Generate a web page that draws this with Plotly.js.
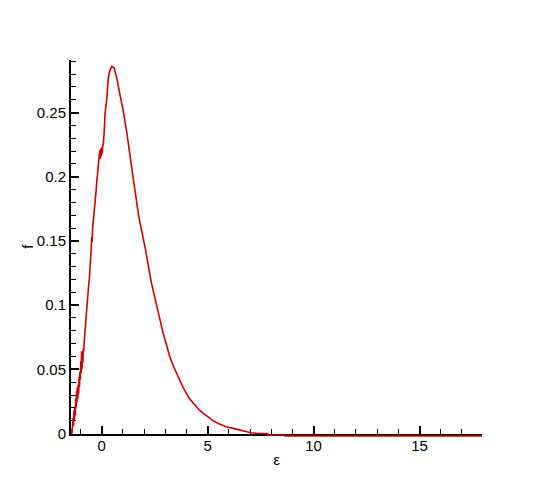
<!DOCTYPE html>
<html>
<head>
<meta charset="utf-8">
<script src="https://cdn.plot.ly/plotly-3.0.1.min.js"></script>
<style>
  body { margin: 0; background: #fff; }
  #plot { width: 550px; height: 489px; }
</style>
</head>
<body>
<div id="plot"></div>
<script>
// distribution f(eps)
var eps = [-1.45, -1.43, -1.41, -1.39, -1.37, -1.35, -1.33, -1.31, -1.29, -1.27,
  -1.25, -1.23, -1.21, -1.19, -1.17, -1.15, -1.13, -1.11, -1.09, -1.07,
  -1.05, -1.03, -1.01, -0.99, -0.97, -0.95, -0.93, -0.91, -0.89, -0.87,
  -0.85, -0.82, -0.79, -0.76, -0.73, -0.70, -0.67, -0.64, -0.61, -0.58,
  -0.55, -0.51, -0.47, -0.45, -0.43, -0.39, -0.35, -0.31, -0.27, -0.24,
  -0.20, -0.16, -0.12, -0.08, -0.06, -0.04, -0.02, 0.0, 0.02, 0.05,
  0.08, 0.12, 0.16, 0.24, 0.31, 0.39, 0.48, 0.58, 0.71, 0.86,
  1.02, 1.18, 1.33, 1.52, 1.75, 2.07, 2.35, 2.71, 2.90, 3.06,
  3.21, 3.37, 3.53, 3.68, 3.84, 4.00, 4.15,
  4.31, 4.62, 4.94, 5.25, 5.56, 5.88, 6.19, 6.50, 6.82, 7.05,
  7.30, 7.84, 7.85, 8.64, 8.65, 17.95];
var f = [-0.001, 0.003, -0.001, 0.008, 0.002, 0.012, 0.006, 0.018, 0.010, 0.020,
  0.014, 0.027, 0.020, 0.033, 0.024, 0.036, 0.027, 0.038, 0.031, 0.044,
  0.036, 0.048, 0.042, 0.056, 0.047, 0.064, 0.050, 0.062, 0.055, 0.066,
  0.064, 0.073, 0.080, 0.088, 0.093, 0.101, 0.106, 0.111, 0.117, 0.121,
  0.127, 0.140, 0.153, 0.149, 0.160, 0.166, 0.171, 0.177, 0.188, 0.195,
  0.204, 0.211, 0.216, 0.221, 0.214, 0.222, 0.216, 0.223, 0.218, 0.224,
  0.226, 0.236, 0.250, 0.261, 0.277, 0.283, 0.286, 0.285, 0.277, 0.264,
  0.251, 0.235, 0.216, 0.195, 0.169, 0.143, 0.117, 0.091, 0.078, 0.069,
  0.060, 0.053, 0.047, 0.042, 0.036, 0.031, 0.027,
  0.024, 0.018, 0.014, 0.010, 0.0074, 0.0053, 0.0040, 0.0027, 0.0014, 0.0006,
  0.0002, 0.0, -0.0012, -0.0012, -0.002, -0.002];

var xRange = [-1.45, 17.95];
var yRange = [0, 0.291];
var yLow = -0.0035;   // room under the axis for the small negative tail

var curve = {
  x: eps,
  y: f,
  type: "scatter",
  mode: "lines",
  xaxis: "x",
  yaxis: "y2",
  line: {color: "rgb(212,0,0)", width: 1.6},
  hoverinfo: "x+y"
};

// empty trace so the visible x/y axes pair gets drawn
var axesHolder = {
  x: [null],
  y: [null],
  type: "scatter",
  mode: "lines",
  xaxis: "x",
  yaxis: "y",
  hoverinfo: "skip"
};

var tickFont = {family: "Liberation Sans, Arial, sans-serif", size: 15, color: "#000"};
var axisCommon = {
  showline: true,
  linecolor: "#000",
  linewidth: 2,
  ticks: "inside",
  ticklen: 8,
  tickwidth: 2,
  tickcolor: "#000",
  showgrid: false,
  zeroline: false,
  tickfont: tickFont,
  fixedrange: true
};

var yBottom = (0 - yLow) / (yRange[1] - yLow);

var layout = {
  width: 550,
  height: 489,
  margin: {l: 71, r: 68, t: 60, b: 51},
  paper_bgcolor: "#fff",
  plot_bgcolor: "rgba(0,0,0,0)",
  showlegend: false,
  xaxis: Object.assign({}, axisCommon, {
    range: xRange,
    anchor: "y",
    tick0: 0,
    dtick: 5,
    ticklabelstandoff: -3,
    minor: {ticks: "inside", dtick: 1, tick0: 0, ticklen: 5, tickwidth: 1, tickcolor: "#000"},
    title: {text: "ε", font: tickFont, standoff: 2}
  }),
  yaxis: Object.assign({}, axisCommon, {
    range: yRange,
    domain: [yBottom, 1],
    anchor: "x",
    tick0: 0,
    dtick: 0.05,
    minor: {ticks: "inside", dtick: 0.01, tick0: 0, ticklen: 5, tickwidth: 1, tickcolor: "#000"},
    title: {text: "f", font: tickFont, standoff: 0}
  }),
  yaxis2: {
    range: [yLow, yRange[1]],
    domain: [0, 1],
    anchor: "x",
    visible: false,
    fixedrange: true
  }
};

Plotly.newPlot("plot", [curve, axesHolder], layout, {displayModeBar: false, staticPlot: true});
</script>
</body>
</html>
